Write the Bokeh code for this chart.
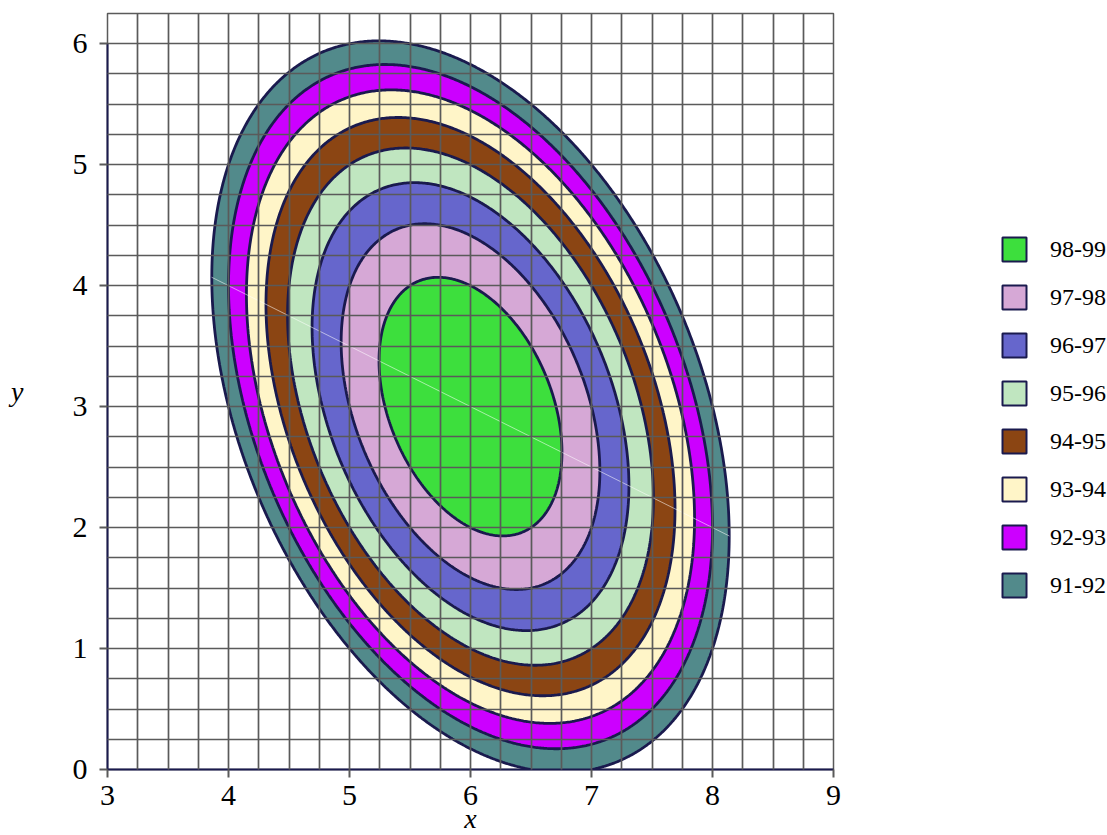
import numpy as np
from bokeh.plotting import figure
from bokeh.models import FixedTicker, Legend, LegendItem
from bokeh.embed import file_html
from bokeh.resources import INLINE

# ---- data ----
levels = [91, 92, 93, 94, 95, 96, 97, 98, 99]
band_labels = ["91-92", "92-93", "93-94", "94-95", "95-96", "96-97", "97-98", "98-99"]
band_colors = ["#528a8b", "#cc00ff", "#fff5c8", "#8b4513",
               "#c0e6c0", "#6666cc", "#d6a8d6", "#3ddf3d"]
peak_x = 6.0
peak_y = 3.0
peak_z = 99.0
quad_coef = [2.0, 1.0, 1.0]      # a*(dx^2) + b*(dx*dy) + c*(dy^2)
ridge_x = [3.86, 8.14]
ridge_y = [4.07, 1.93]
x_ticks = [3, 4, 5, 6, 7, 8, 9]
y_ticks = [0, 1, 2, 3, 4, 5, 6]
x_grid = [3.25 + 0.25 * i for i in range(24)]
y_grid = [0.25 + 0.25 * i for i in range(25)]

navy = "#1a1a4e"
grey = "#5a5a5a"
serif = "Liberation Serif"

# surface on a grid
gx = np.linspace(3, 9, 500)
gy = np.linspace(0, 6.25, 520)
X, Y = np.meshgrid(gx, gy)
dx = X - peak_x
dy = Y - peak_y
Z = peak_z - (quad_coef[0] * dx**2 + quad_coef[1] * dx * dy + quad_coef[2] * dy**2)

p = figure(frame_width=726, frame_height=756, x_range=(3, 9), y_range=(0, 6.25),
           min_border_left=107, min_border_top=13, min_border_bottom=64, min_border_right=272,
           output_backend="svg", toolbar_location=None)
p.outline_line_color = grey
p.outline_line_width = 1.5

p.contour(gx, gy, Z, levels, fill_color=band_colors, line_color=navy, line_width=2.8)
p.line(ridge_x, ridge_y, line_color="white", line_alpha=0.55, line_width=1)

# grid over the fills
p.xgrid.ticker = FixedTicker(ticks=x_grid, minor_ticks=[])
p.ygrid.ticker = FixedTicker(ticks=y_grid, minor_ticks=[])
for g in (p.xgrid, p.ygrid):
    g.grid_line_color = grey
    g.grid_line_width = 1.7
    g.level = "overlay"

# axes
p.xaxis.ticker = FixedTicker(ticks=x_ticks, minor_ticks=[])
p.yaxis.ticker = FixedTicker(ticks=y_ticks, minor_ticks=[])
p.xaxis.bounds = (3, 9)
p.yaxis.bounds = (0, 6)
for ax in (p.xaxis, p.yaxis):
    ax.axis_line_color = navy
    ax.axis_line_width = 2
    ax.major_tick_line_color = grey
    ax.major_tick_line_width = 2
    ax.major_tick_out = 8
    ax.major_tick_in = 0
    ax.minor_tick_line_color = None
    ax.major_label_text_font = serif
    ax.major_label_text_font_size = "30px"
    ax.major_label_text_color = "black"
    ax.axis_label_text_font = serif
    ax.axis_label_text_font_style = "italic"
    ax.axis_label_text_font_size = "28px"
    ax.axis_label_text_color = "black"
p.xaxis.major_label_standoff = 8
p.yaxis.major_label_standoff = 12
p.xaxis.axis_label = "x"
p.xaxis.axis_label_standoff = -5
p.yaxis.axis_label = "y"
p.yaxis.axis_label_orientation = "horizontal"
p.yaxis.axis_label_standoff = 46

# legend
items = []
for lab, col in zip(band_labels, band_colors):
    r = p.quad(left=[np.nan], right=[np.nan], top=[np.nan], bottom=[np.nan],
               fill_color=col, line_color=navy, line_width=2)
    items.append(LegendItem(label=lab, renderers=[r]))
items = items[::-1]
legend = Legend(items=items, location=(166, 169), glyph_width=30, glyph_height=30,
                spacing=18, label_standoff=21, label_text_font=serif,
                label_text_font_size="24px", label_text_color="black",
                border_line_color=None, background_fill_alpha=0, padding=0, margin=80)
p.add_layout(legend, "right")

open("out.html", "w").write(file_html(p, INLINE))
